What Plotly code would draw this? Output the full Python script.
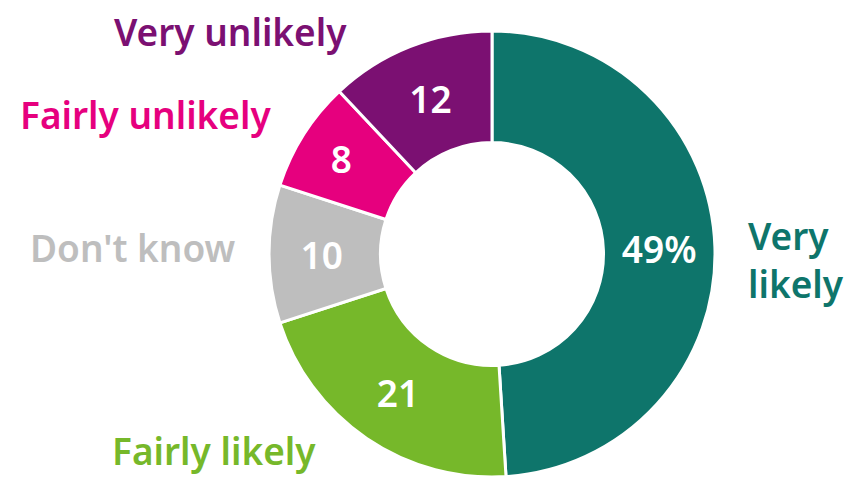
import plotly.graph_objects as go

# Survey answers, clockwise from 12 o'clock
categories = ["Very likely", "Fairly likely", "Don't know", "Fairly unlikely", "Very unlikely"]
values = [49, 21, 10, 8, 12]
slice_labels = ["49%", "21", "10", "8", "12"]
colors = ["#0e756b", "#76b82a", "#bebebe", "#e6007e", "#7b1072"]

FONT = "Noto Sans"

fig = go.Figure(
    go.Pie(
        labels=categories,
        values=values,
        text=slice_labels,
        textinfo="text",
        textposition="inside",
        insidetextorientation="horizontal",
        textfont=dict(family=FONT, size=37, color="white", weight=600),
        marker=dict(colors=colors, line=dict(color="white", width=3)),
        hole=0.5,
        sort=False,
        direction="clockwise",
        rotation=0,
        domain=dict(x=[0.3172, 0.8432], y=[0.0, 0.935]),
        showlegend=False,
        hoverinfo="label+value",
    )
)

# Category names placed beside their slices
outer = [
    ("Very unlikely", 231, 31, colors[4], "center"),
    ("Fairly unlikely", 145, 115, colors[3], "center"),
    ("Don't know", 132, 248, colors[2], "center"),
    ("Fairly likely", 214, 450, colors[1], "center"),
    ("Very<br>likely", 746, 259, colors[0], "left"),
]
for txt, px, py, col, align in outer:
    fig.add_annotation(
        text=txt,
        x=px / 848,
        y=1 - py / 477,
        xref="paper",
        yref="paper",
        xanchor="left" if align == "left" else "center",
        yanchor="middle",
        align=align,
        showarrow=False,
        font=dict(family=FONT, size=37, color=col, weight=600),
    )

fig.update_layout(
    width=848,
    height=477,
    margin=dict(l=0, r=0, t=0, b=0),
    paper_bgcolor="white",
    plot_bgcolor="white",
)

fig.write_html("out.html")
